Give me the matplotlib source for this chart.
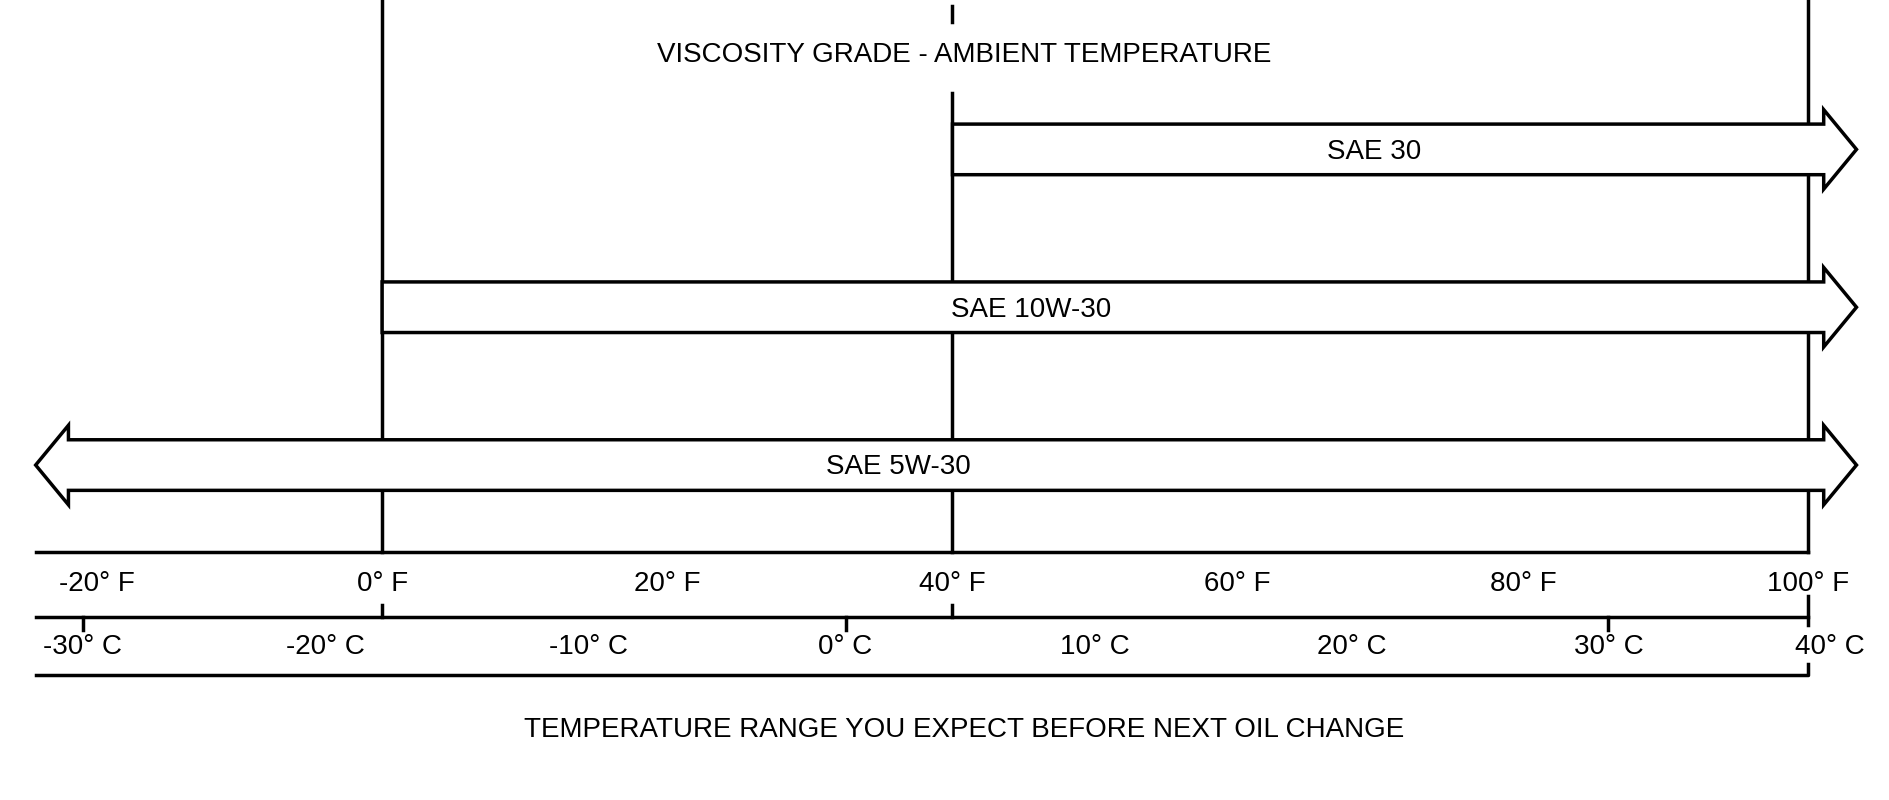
import matplotlib
matplotlib.use("Agg")
import matplotlib.pyplot as plt
from matplotlib.patches import Polygon

# oil grades and the lowest ambient temperature (deg F) each one covers
grades = ["SAE 30", "SAE 10W-30", "SAE 5W-30"]
low_f = [40, 0, None]      # None = open ended (arrow head on the left too)

# scale labels
f_ticks = [-20, 0, 20, 40, 60, 80, 100]
f_labels = ["-20° F", "0° F", "20° F", "40° F", "60° F", "80° F", "100° F"]
c_values = [-30, -20, -10, 0, 10, 20, 30, 40]
c_labels = ["-30° C", "-20° C", "-10° C", "0° C", "10° C", "20° C", "30° C", "40° C"]
# where the celsius labels sit on the fahrenheit scale in the drawing
c_pos_f = [-21, -4, 14.5, 32.5, 50, 68, 86, 101.5]

title = "VISCOSITY GRADE - AMBIENT TEMPERATURE"
xlabel = "TEMPERATURE RANGE YOU EXPECT BEFORE NEXT OIL CHANGE"

plt.rcParams['font.family'] = ['Liberation Sans', 'DejaVu Sans']

fig = plt.figure(figsize=(18.9, 8), dpi=100)
ax = fig.add_axes([0, 0, 1, 1])
ax.set_xlim(-26.8, 105.75)
ax.set_ylim(664, 0)
ax.axis("off")

lw = 2.5
fs = 20
x_left = -24.3

# layout rows (drawing units, top = 0)
row_y = [124, 255, 386]
label_x = [69.6, 45.5, 36.2]
body_h, head_h = 21, 33
head_len = 2.3
head_base = 101.1
axis_f_y, axis_c_y, axis_b_y = 458, 512, 560

# boundary lines between grades
for xv in [0, 100]:
    ax.plot([xv, xv], [0, axis_f_y], color="black", lw=lw, zorder=1)
ax.plot([40, 40], [5, 18], color="black", lw=lw, zorder=1)
ax.plot([40, 40], [77, axis_f_y], color="black", lw=lw, zorder=1)

# arrows, drawn white on top of the boundary lines
for name, lo, yc, lx in zip(grades, low_f, row_y, label_x):
    right = [(head_base, yc + body_h), (head_base, yc + head_h), (head_base + head_len, yc),
             (head_base, yc - head_h), (head_base, yc - body_h)]
    if lo is None:
        xl = -22.0
        left = [(xl, yc - body_h), (xl, yc - head_h), (xl - head_len, yc),
                (xl, yc + head_h), (xl, yc + body_h)]
    else:
        left = [(lo, yc - body_h), (lo, yc + body_h)]
    ax.add_patch(Polygon(left + right, closed=True, facecolor="white", edgecolor="black",
                         lw=lw, joinstyle="miter", zorder=3))
    ax.text(lx, yc + 2, name, ha="center", va="center", fontsize=fs, zorder=4)

# fahrenheit scale
ax.plot([x_left, 100], [axis_f_y, axis_f_y], color="black", lw=lw)
for xv, lab in zip(f_ticks, f_labels):
    ax.text(xv, axis_f_y + 27, lab, ha="center", va="center", fontsize=fs)

# celsius scale
ax.plot([x_left, 100], [axis_c_y, axis_c_y], color="black", lw=lw)
for xv in [0, 40]:
    ax.plot([xv, xv], [axis_c_y - 10, axis_c_y], color="black", lw=lw)
ax.plot([100, 100], [axis_c_y - 17, axis_c_y + 7], color="black", lw=lw)
for cv, xv, lab in zip(c_values, c_pos_f, c_labels):
    ax.text(xv, axis_c_y + 25, lab, ha="center", va="center", fontsize=fs)
    if cv in (-30, 0, 30):
        ax.plot([xv, xv], [axis_c_y, axis_c_y + 11], color="black", lw=lw)

# bottom bracket line
ax.plot([x_left, 100, 100], [axis_b_y, axis_b_y, axis_b_y - 9], color="black", lw=lw)

ax.text(40.8, 46, title, ha="center", va="center", fontsize=fs)
ax.text(40.8, 606, xlabel, ha="center", va="center", fontsize=fs)

fig.savefig("out.png", dpi=100, facecolor="white")
